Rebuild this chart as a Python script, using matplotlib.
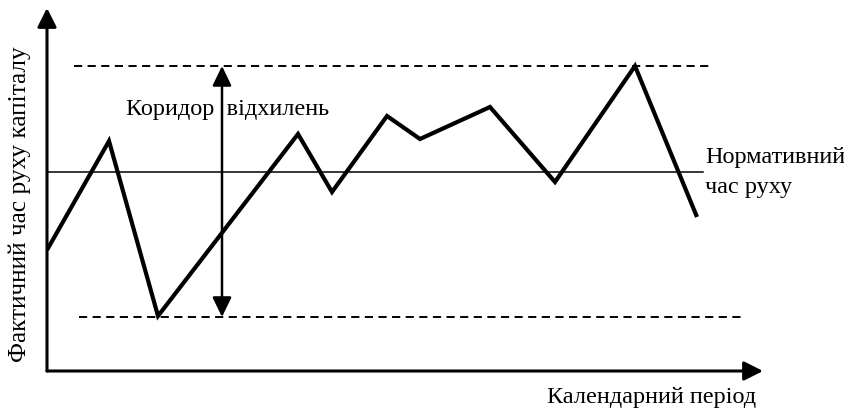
import matplotlib.pyplot as plt

plt.rcParams['font.family'] = ['Liberation Serif', 'DejaVu Serif']

# calendar period (arbitrary units) and actual movement time of capital
period = [0, 6.2, 11.1, 25.1, 28.5, 34.0, 37.3, 44.3, 50.8, 58.8, 65.0]
actual_time = [12.1, 23.0, 5.5, 23.7, 17.9, 25.5, 23.2, 26.4, 18.9, 30.5, 15.4]

normative = 19.9
corridor_top = 30.5
corridor_bottom = 5.4
corridor_x = 17.5

x_max = 71.6
y_max = 36.3

fig = plt.figure(figsize=(8.45, 4.15), dpi=100)
ax = fig.add_axes([47 / 845, 44 / 415, 716 / 845, 363 / 415])
ax.set_xlim(0, x_max)
ax.set_ylim(0, y_max)
ax.axis('off')

# axes with arrows
arrow_kw = dict(arrowstyle='-|>,head_length=1.15,head_width=0.58', color='black',
                lw=2.2, shrinkA=0, shrinkB=0)
ax.annotate('', xy=(0, y_max), xytext=(0, 0), arrowprops=arrow_kw, annotation_clip=False)
ax.annotate('', xy=(x_max, 0), xytext=(0, 0), arrowprops=arrow_kw, annotation_clip=False)

# normative line and corridor bounds
ax.plot([0, 65.6], [normative, normative], color='black', lw=1.1)
ax.plot([2.7, 66.3], [corridor_top, corridor_top], color='black', lw=1.4,
        dashes=(4.2, 2.8))
ax.plot([3.2, 69.8], [corridor_bottom, corridor_bottom], color='black', lw=1.4,
        dashes=(4.2, 2.8))

# corridor double arrow
ax.annotate('', xy=(corridor_x, corridor_top), xytext=(corridor_x, corridor_bottom),
            arrowprops=dict(arrowstyle='<|-|>,head_length=1.2,head_width=0.58',
                            color='black', lw=1.8, shrinkA=0, shrinkB=0))

# actual time series
ax.plot(period, actual_time, color='black', lw=3.0, solid_joinstyle='miter',
        solid_capstyle='butt')

fs = 17.5
ax.text(18.05, 26.1, 'Коридор  відхилень', ha='center', va='center', fontsize=fs)
ax.text(65.8, 21.3, 'Нормативний', ha='left', va='center', fontsize=fs)
ax.text(65.8, 18.4, 'час руху', ha='left', va='center', fontsize=fs)
ax.text(x_max - 0.7, -2.6, 'Календарний період', ha='right', va='center', fontsize=fs)
ax.text(-2.7, 16.7, 'Фактичний час руху капіталу', ha='center', va='center',
        rotation=90, fontsize=18.3)

fig.savefig('out.png', dpi=100)
